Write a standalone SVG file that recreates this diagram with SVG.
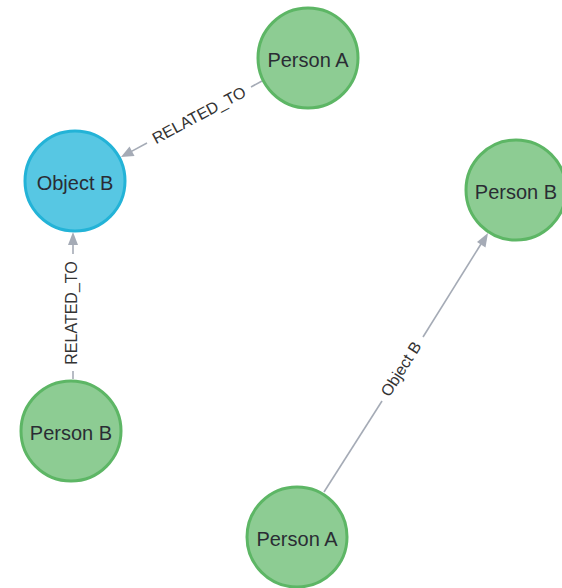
<svg xmlns="http://www.w3.org/2000/svg" width="562" height="588" viewBox="0 0 562 588">
<defs>
<style>
.green circle{fill:#8DCC93;stroke:#5DB665;stroke-width:3}
.blue circle{fill:#57C7E3;stroke:#23B3D7;stroke-width:3}
.node text{font-family:"Liberation Sans",Arial,sans-serif;font-size:20px;fill:#2A2C34;text-anchor:middle;dominant-baseline:central}
.edge line{stroke:#A5ABB6;stroke-width:1.6}
.edge polygon{fill:#A5ABB6}
.edge text{font-family:"Liberation Sans",Arial,sans-serif;font-size:16px;fill:#333;text-anchor:middle;dominant-baseline:central}
</style>
</defs>
<rect width="562" height="588" fill="#fff"/>
<g id="connectors">
<g class="edge" id="e1">
<line x1="262" y1="81" x2="251" y2="87"/>
<line x1="147" y1="143" x2="131" y2="151.6"/>
<polygon points="121,157 129.5,146.5 134.5,156"/>
<text transform="translate(199,115) rotate(-28)">RELATED_TO</text>
</g>
<g class="edge" id="e2">
<line x1="73" y1="379" x2="73" y2="371"/>
<line x1="73" y1="254" x2="73" y2="244"/>
<polygon points="73,232 78,245 68,245"/>
<text transform="translate(71,313) rotate(-90)">RELATED_TO</text>
</g>
<g class="edge" id="e3">
<line x1="324" y1="492" x2="382" y2="401"/>
<line x1="423" y1="337" x2="481" y2="244"/>
<polygon points="488,233 485.5,247.5 477,242"/>
<text transform="translate(401,369) rotate(-57.6)">Object B</text>
</g>
</g>
<g id="n1" class="node green"><circle cx="308" cy="58" r="50"/><text x="308" y="60">Person A</text></g>
<g id="n2" class="node blue"><circle cx="75" cy="181" r="50"/><text x="75" y="183">Object B</text></g>
<g id="n3" class="node green"><circle cx="516" cy="190" r="50"/><text x="516" y="192">Person B</text></g>
<g id="n4" class="node green"><circle cx="71" cy="431" r="50"/><text x="71" y="433">Person B</text></g>
<g id="n5" class="node green"><circle cx="297" cy="537" r="50"/><text x="297" y="539">Person A</text></g>
</svg>
